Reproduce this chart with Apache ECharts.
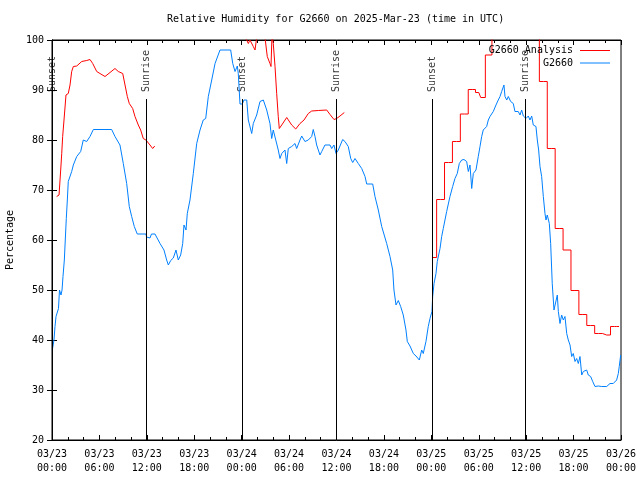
<!DOCTYPE html>
<html>
<head>
<meta charset="utf-8">
<script src="https://cdn.jsdelivr.net/npm/echarts@6/dist/echarts.min.js"></script>
<style>html,body{margin:0;padding:0;background:#fff}#c{width:640px;height:480px}</style>
</head>
<body>
<div id="c"></div>
<script>
// Time axis: hours since 2025-03-23 00:00 UTC
var xTickLabels = ['03/23\n00:00','03/23\n06:00','03/23\n12:00','03/23\n18:00','03/24\n00:00','03/24\n06:00','03/24\n12:00','03/24\n18:00','03/25\n00:00','03/25\n06:00','03/25\n12:00','03/25\n18:00','03/26\n00:00'];
var yTicks = [20,30,40,50,60,70,80,90,100];

var sunTimes = [0.05, 11.95, 24.08, 35.95, 48.1, 59.9];
var sunNames = ['Sunset','Sunrise','Sunset','Sunrise','Sunset','Sunrise'];

// G2660 Analysis (smooth part; null = gap)
var analysisLine = [
 [0.59,68.7],[0.89,69.0],[1.10,74],[1.23,77.3],[1.35,80.7],[1.52,84],[1.77,89],[2.06,89.3],[2.28,91],[2.49,93.7],
 [2.70,94.7],[3.13,94.8],[3.76,95.7],[4.39,95.9],[4.81,96.1],[5.15,95.3],[5.66,93.7],[6.07,93.3],[6.71,92.7],[7.34,93.5],
 [7.97,94.3],[8.39,93.7],[8.95,93.3],[9.24,91],[9.53,88.7],[9.78,87.3],[10.21,86.3],[10.50,84.7],[10.92,83],[11.22,82],
 [11.55,80.3],[11.89,80],[12.40,79],[12.74,78.3],[13.00,78.8],
 [18.0,null],
 [24.04,101],[24.64,100],[24.84,99.3],[25.05,100],[25.47,98.7],[25.69,98],[25.90,100.5],[26.32,102],[26.95,100.5],
 [27.24,96.7],[27.58,95.3],[27.71,94.7],[27.84,101],[28.00,99.3],[28.22,94.7],[28.43,89.3],[28.63,84.7],[28.76,82.3],
 [29.07,83],[29.70,84.5],[30.33,83],[30.84,82.2],[31.38,83.3],[31.89,84],[32.43,85.3],[32.86,85.8],[33.70,85.9],
 [34.76,86],[35.18,85.1],[35.68,84.1],[36.02,84.3],[36.44,84.8],[36.99,85.5]
];
// G2660 Analysis (hourly steps on day 3)
var analysisStep = [
 [48.17,56.5],[49.17,68.1],[50.17,75.5],[51.17,79.7],[52.17,85.2],[53.17,90.1],[54.0,89.5],[54.5,88.5],[55.17,97],
 [56.17,101],[57.17,102],[58.17,103],[59.17,103],[60.17,102],[61.17,101],[62.17,91.7],[63.17,78.3],[64.17,62.3],
 [65.17,58],[66.17,49.9],[67.17,45.1],[68.17,42.9],[69.17,41.3],[70.17,41.0],[71.17,42.7],[71.75,42.7]
];
// G2660 observations
var observed = [
 [0.04,38],[0.25,40],[0.38,42.7],[0.51,44.7],[0.82,46.3],[0.95,50],[1.14,49],[1.27,50],[1.39,52.7],[1.56,56],
 [1.68,60],[1.81,64.3],[1.94,68],[2.06,71.7],[2.49,73.7],[2.70,75],[3.13,76.7],[3.63,77.7],[3.96,80],[4.39,79.7],
 [4.81,80.7],[5.23,82.1],[7.55,82.1],[7.97,80.7],[8.60,79],[9.02,75.3],[9.45,71.3],[9.78,66.7],[10.08,64.7],[10.41,62.7],
 [10.79,61.2],[11.89,61.2],[11.96,60.6],[12.15,61],[12.40,60.4],[12.59,61.2],[13.03,61.2],[13.28,60.8],[13.67,59.3],[14.17,58],
 [14.51,56],[14.72,55],[15.02,55.9],[15.35,56.4],[15.69,58],[15.98,56],[16.28,57],[16.54,59.3],[16.70,63],[16.96,62],
 [17.12,65.3],[17.46,68],[17.88,73.3],[18.31,79.3],[18.73,82],[19.14,84],[19.45,84.3],[19.78,88.7],[20.21,92],[20.63,95.3],
 [21.26,98],[22.61,98],[22.87,95.3],[23.16,93.7],[23.45,94.8],[23.57,93.3],[23.79,87.2],[24.08,87.2],[24.29,88],[24.64,88],
 [24.84,84],[25.27,81.3],[25.47,83.3],[25.90,85],[26.32,87.7],[26.74,88],[27.17,86],[27.58,83.3],[27.80,80.3],[28.00,82],
 [28.22,81.7],[28.63,78],[28.85,76.3],[29.07,77.3],[29.27,77.7],[29.48,78],[29.70,75.3],[29.90,78.3],[30.33,78.7],[30.75,79.3],
 [30.96,78.3],[31.38,80],[31.60,80.8],[32.01,79.7],[32.43,80],[32.86,80.7],[33.06,82.1],[33.28,80.7],[33.49,79],[33.91,77],
 [34.13,77.7],[34.54,79],[35.18,79],[35.39,78.3],[35.68,79],[35.94,77.3],[36.23,78],[36.44,78.3],[36.78,80.1],[37.07,79.7],
 [37.49,78.7],[37.80,76.3],[38.05,75.5],[38.34,76.3],[38.76,75.3],[39.19,74.3],[39.61,72.7],[39.82,71.2],[40.58,71.2],[40.87,68.7],
 [41.29,66],[41.72,62.7],[42.35,59.3],[42.77,56.7],[43.11,54],[43.27,50],[43.53,47],[43.82,47.9],[44.12,46.7],[44.45,45],
 [44.79,42],[44.96,39.7],[45.30,38.8],[45.72,37.3],[46.06,36.8],[46.48,36],[46.78,38],[46.98,37.3],[47.32,39.7],[47.61,42.7],
 [47.83,44.3],[48.08,45.7],[48.17,48.7],[48.34,51.3],[48.59,53.3],[48.75,55.7],[49.10,58.3],[49.31,60.7],[49.51,62.3],[49.94,65.7],
 [50.36,68.7],[50.70,70.7],[50.99,72.3],[51.28,73.3],[51.54,75.3],[51.84,76],[52.13,76.1],[52.47,75.7],[52.68,73.7],[52.89,75],
 [53.11,70.3],[53.31,73.3],[53.65,74],[53.94,76.7],[54.16,78.7],[54.37,80.7],[54.57,82],[55.00,82.7],[55.21,84],[55.42,84.7],
 [55.84,85.7],[56.18,87],[56.47,88],[56.69,88.7],[56.90,89.7],[57.19,91],[57.32,88.7],[57.54,88],[57.74,88.7],[58.04,87.7],
 [58.37,87.3],[58.58,85.7],[59.00,85.7],[59.22,85],[59.43,86],[59.64,84.8],[59.98,84.3],[60.27,84.8],[60.48,84],[60.70,84.8],
 [60.90,83],[61.24,82.7],[61.41,80],[61.58,78],[61.75,74.7],[61.96,72.7],[62.17,68.7],[62.38,65.3],[62.51,64],[62.67,65],
 [62.93,63.3],[63.10,59.3],[63.30,51.3],[63.52,46],[63.77,46],[63.94,49],[64.07,45.7],[64.28,43.3],[64.49,45],[64.70,44],
 [64.91,44.7],[65.13,41.3],[65.33,40],[65.55,39],[65.76,36.7],[65.96,37.3],[66.18,35.7],[66.39,36.3],[66.60,35.3],[66.81,36.7],
 [67.03,33],[67.23,33.7],[67.44,33.3],[67.66,34],[67.86,33],[68.16,32.7],[68.42,31.7],[68.71,30.7],[68.92,30.3],[69.13,30.8],
 [69.34,31],[69.56,30.7],[69.76,31],[70.19,30.7],[70.39,31],[70.61,31.3],[70.82,31],[71.02,31.3],[71.24,31.7],[71.45,32],
 [71.66,33.3],[71.78,34.7],[71.96,37]
];

var MONO = '"DejaVu Sans Mono", "Liberation Mono", monospace';
var chart = echarts.init(document.getElementById('c'), null, {renderer:'canvas'});

var sunLabelY = 89.6, sunLineTop = 88.2, yMin = 20, yMax = 100;
var sunMarks = sunTimes.map(function(t){ return [{coord:[t,yMin]},{coord:[t,sunLineTop]}]; });
var sunLabelData = sunTimes.map(function(t){ return [t, sunLabelY]; });

var axisCommon = {
  type:'value', min:0, max:72, interval:6,
  axisLine:{show:true, lineStyle:{color:'#000', width:1}},
  axisTick:{show:true, inside:true, length:5, lineStyle:{color:'#000'}},
  minorTick:{show:true, splitNumber:3, length:3, lineStyle:{color:'#000'}},
  splitLine:{show:false}
};
var yCommon = {
  type:'value', min:yMin, max:yMax, interval:10,
  axisLine:{show:true, lineStyle:{color:'#000', width:1}},
  axisTick:{show:true, inside:true, length:5, lineStyle:{color:'#000'}},
  splitLine:{show:false}
};
var legendCommon = {orient:'vertical', align:'right', right:30, padding:0, icon:'rect', itemWidth:30, itemHeight:1, itemGap:2,
  textStyle:{fontFamily:MONO, fontSize:10, color:'#000', padding:[0,2,0,0]}};

chart.setOption({
  animation:false,
  backgroundColor:'#fff',
  title:{text:'Relative Humidity for G2660 on 2025-Mar-23 (time in UTC)', left:167, top:14, padding:0,
    textStyle:{fontFamily:MONO, fontSize:10, fontWeight:'normal', color:'#000'}},
  grid:{left:52, right:19, top:40, bottom:40, show:true, borderColor:'#000', borderWidth:1, backgroundColor:'transparent',
    outerBoundsMode:'none', containLabel:false},
  legend:[
    Object.assign({}, legendCommon, {data:['G2660 Analysis'], top:45.5}),
    Object.assign({}, legendCommon, {data:['G2660'], top:58})
  ],
  xAxis:[
    Object.assign({}, axisCommon, {position:'bottom',
      axisLabel:{show:true, margin:7, fontFamily:MONO, fontSize:10, color:'#000', lineHeight:14,
        formatter:function(v){ return xTickLabels[Math.round(v/6)] || ''; }}}),
    Object.assign({}, axisCommon, {position:'top', axisLabel:{show:false}})
  ],
  yAxis:[
    Object.assign({}, yCommon, {position:'left', name:'Percentage', nameLocation:'middle', nameGap:35,
      nameTextStyle:{fontFamily:MONO, fontSize:10, color:'#000'},
      axisLabel:{show:true, margin:8, fontFamily:MONO, fontSize:10, color:'#000'}}),
    Object.assign({}, yCommon, {position:'right', axisLabel:{show:false}})
  ],
  series:[
    {name:'G2660 Analysis', type:'line', data:analysisLine, symbol:'none', connectNulls:false, clip:true,
     lineStyle:{color:'#ff0000', width:1}, itemStyle:{color:'#ff0000'}},
    {name:'G2660 Analysis', type:'line', data:analysisStep, step:'middle', symbol:'none', clip:true,
     lineStyle:{color:'#ff0000', width:1}, itemStyle:{color:'#ff0000'}},
    {name:'G2660', type:'line', data:observed, symbol:'none', clip:true,
     lineStyle:{color:'#0080ff', width:1}, itemStyle:{color:'#0080ff'}},
    {name:'sun', type:'scatter', data:sunLabelData, symbolSize:0, silent:true, clip:false,
     label:{show:true, position:[0,0], align:'left', verticalAlign:'middle', rotate:90,
       fontFamily:MONO, fontSize:10, color:'#000',
       formatter:function(p){ return sunNames[p.dataIndex]; }},
     markLine:{silent:true, symbol:['none','none'], label:{show:false},
       lineStyle:{color:'#000', width:1, type:'solid'}, data:sunMarks}}
  ]
});
</script>
</body>
</html>
